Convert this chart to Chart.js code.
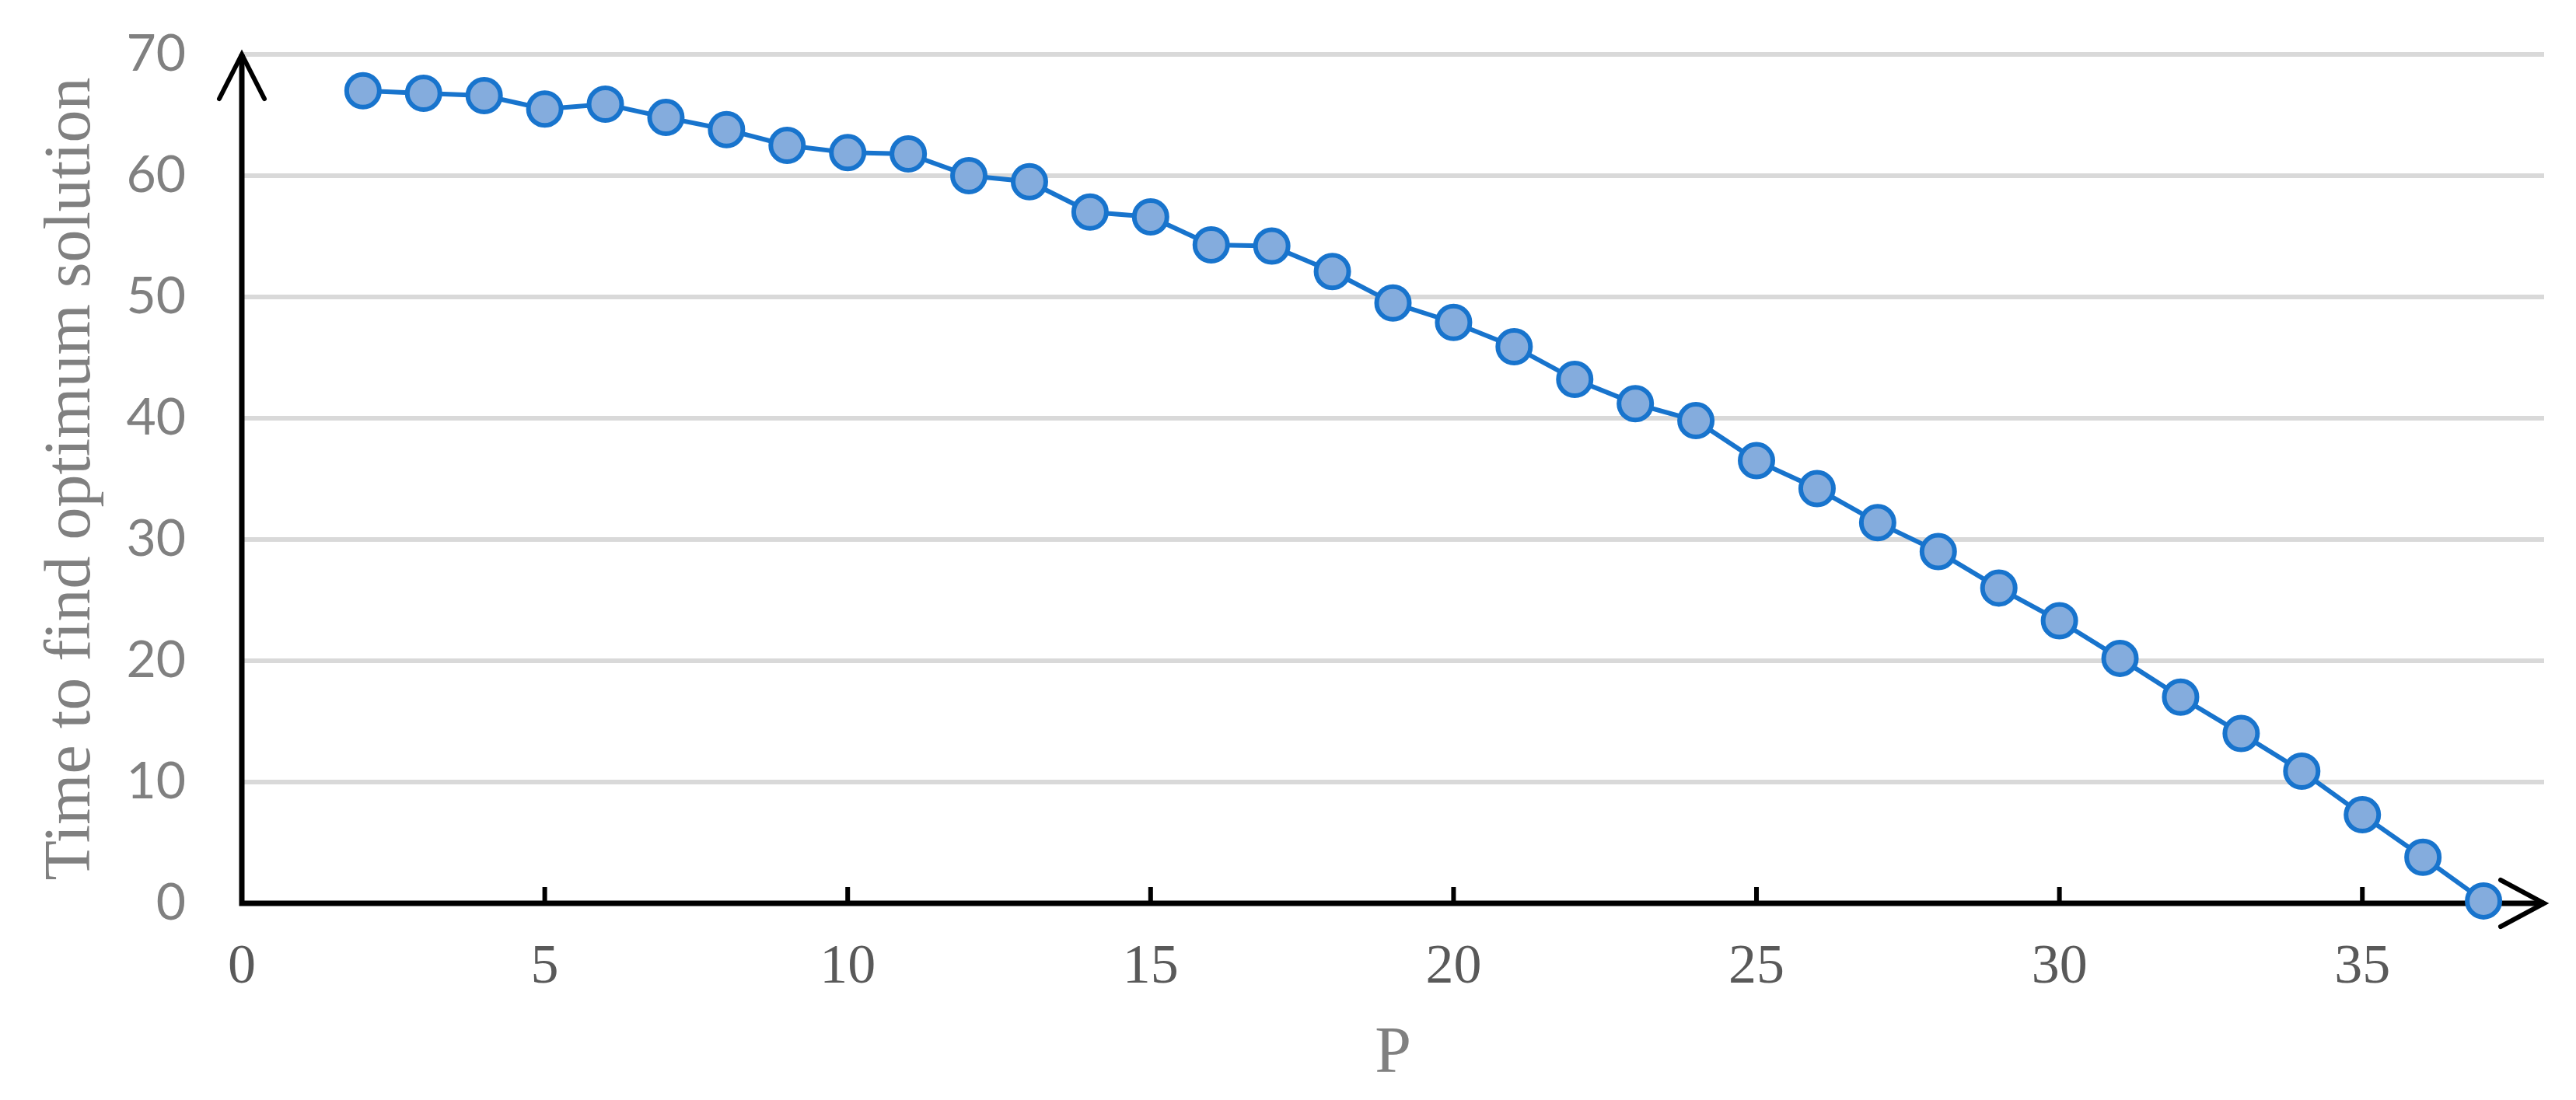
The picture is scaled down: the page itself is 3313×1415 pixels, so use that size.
<!DOCTYPE html>
<html>
<head>
<meta charset="utf-8">
<script src="https://cdn.jsdelivr.net/npm/chart.js@4/dist/chart.umd.min.js"></script>
<style>
  html, body { margin: 0; padding: 0; background: #fff; }
  #wrap { width: 3313px; height: 1415px; }
</style>
</head>
<body>
<div id="wrap"><canvas id="chart" width="3313" height="1415"></canvas></div>
<script>
// P values and time to find the optimum
const pValues = [2, 3, 4, 5, 6, 7, 8, 9, 10, 11, 12, 13, 14, 15, 16, 17, 18, 19,
  20, 21, 22, 23, 24, 25, 26, 27, 28, 29, 30, 31, 32, 33, 34, 35, 36, 37];
const times = [67.0, 66.8, 66.6, 65.5, 65.9, 64.8, 63.8, 62.5, 61.9, 61.8, 60.0, 59.5,
  57.0, 56.6, 54.3, 54.2, 52.1, 49.5, 47.9, 45.9, 43.2, 41.2, 39.8, 36.5,
  34.2, 31.4, 29.0, 26.0, 23.3, 20.2, 17.0, 14.0, 10.9, 7.3, 3.8, 0.2];
const xTicks = [0, 5, 10, 15, 20, 25, 30, 35];
const yTicks = [0, 10, 20, 30, 40, 50, 60, 70];

const points = pValues.map((p, i) => ({ x: p, y: times[i] }));

// black axes with arrow heads and small x tick marks
const axesPlugin = {
  id: "axes",
  beforeDatasetsDraw(chart) {
    const { ctx, chartArea } = chart;
    const xs = chart.scales.x;
    const { left, right, top, bottom } = chartArea;
    ctx.save();
    ctx.strokeStyle = "#000";
    ctx.lineWidth = 7;
    ctx.lineCap = "butt";
    ctx.beginPath();
    ctx.moveTo(left, bottom + 3.5);
    ctx.lineTo(left, top);
    ctx.moveTo(left - 3.5, bottom);
    ctx.lineTo(right, bottom);
    ctx.stroke();

    ctx.lineWidth = 6;
    ctx.lineCap = "round";
    ctx.lineJoin = "miter";
    ctx.beginPath();
    ctx.moveTo(left - 29, top + 57);
    ctx.lineTo(left, top);
    ctx.lineTo(left + 29, top + 57);
    ctx.moveTo(right - 56, bottom - 30);
    ctx.lineTo(right, bottom);
    ctx.lineTo(right - 56, bottom + 30);
    ctx.stroke();

    ctx.lineCap = "butt";
    ctx.lineWidth = 6;
    ctx.beginPath();
    xTicks.forEach(v => {
      if (v === 0) return;
      const px = xs.getPixelForValue(v);
      ctx.moveTo(px, bottom);
      ctx.lineTo(px, bottom - 21);
    });
    ctx.stroke();
    ctx.restore();
  }
};

new Chart("chart", {
  type: "line",
  data: {
    datasets: [
      {
        data: points,
        borderColor: "#1874cd",
        backgroundColor: "#84acdd",
        borderWidth: 6,
        pointRadius: 21,
        pointBorderWidth: 6,
        pointBackgroundColor: "#84acdd",
        pointBorderColor: "#1874cd",
        tension: 0,
        clip: false,
      },
    ],
  },
  options: {
    responsive: false,
    animation: false,
    devicePixelRatio: 1,
    layout: { padding: { left: 0, top: 70, right: 41, bottom: 0 } },
    plugins: {
      legend: { display: false },
      tooltip: { enabled: false },
    },
    scales: {
      x: {
        type: "linear",
        min: 0,
        max: 38,
        afterBuildTicks: s => { s.ticks = xTicks.map(v => ({ value: v })); },
        afterFit: s => { s.height = 253; s.paddingLeft = 0; s.paddingRight = 0; },
        grid: { display: false, drawTicks: false },
        border: { display: false },
        ticks: {
          padding: 40,
          color: "#595959",
          font: { family: "'Liberation Serif', 'DejaVu Serif', serif", size: 72 },
        },
        title: {
          display: true,
          text: "P",
          color: "#808080",
          font: { family: "'Liberation Serif', 'DejaVu Serif', serif", size: 84, lineHeight: 1 },
          padding: { top: 0, bottom: 16 },
        },
      },
      y: {
        min: 0,
        max: 70,
        afterBuildTicks: s => { s.ticks = yTicks.map(v => ({ value: v })); },
        afterFit: s => { s.width = 311; s.paddingTop = 0; s.paddingBottom = 0; },
        grid: {
          drawTicks: false,
          lineWidth: 6,
          color: c => (c.tick && c.tick.value === 0 ? "rgba(0,0,0,0)" : "#d9d9d9"),
        },
        border: { display: false },
        ticks: {
          padding: 72,
          color: "#808080",
          font: { family: "Lato, 'Open Sans', sans-serif", size: 66 },
        },
        title: {
          display: true,
          text: "Time to find optimum solution",
          color: "#808080",
          font: { family: "'Liberation Serif', 'DejaVu Serif', serif", size: 84, lineHeight: 1 },
          padding: { top: 51, bottom: 0 },
        },
      },
    },
  },
  plugins: [axesPlugin],
});
</script>
</body>
</html>
